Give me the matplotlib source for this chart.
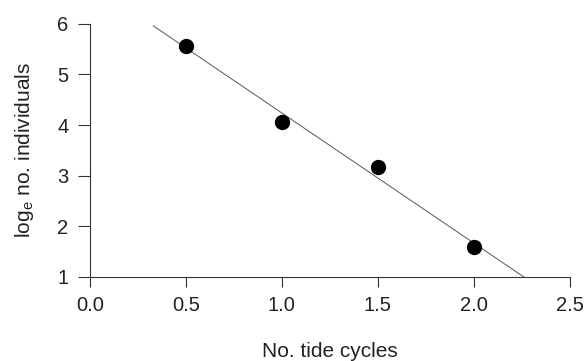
import matplotlib
matplotlib.use("Agg")
import matplotlib.pyplot as plt

plt.rcParams['font.family'] = ['Liberation Sans', 'DejaVu Sans']

# observations
tide_cycles = [0.5, 1.0, 1.5, 2.0]
log_individuals = [5.57, 4.06, 3.17, 1.60]

# fitted line, as drawn
fit_x = [0.33, 2.26]
fit_y = [5.96, 1.0]

fig = plt.figure(figsize=(5.88, 3.61), dpi=100)
ax = fig.add_axes([0.153, 0.233, 0.816, 0.701])

ax.plot(fit_x, fit_y, color='#555555', lw=0.7, zorder=2)
ax.plot(tide_cycles, log_individuals, 'o', color='black', markersize=10, zorder=3)

ax.set_xlim(0, 2.5)
ax.set_ylim(1, 6)
ax.set_xticks([0.0, 0.5, 1.0, 1.5, 2.0, 2.5])
ax.set_xticklabels(['0.0', '0.5', '1.0', '1.5', '2.0', '2.5'])
ax.set_yticks([1, 2, 3, 4, 5, 6])

for s in ['top', 'right']:
    ax.spines[s].set_visible(False)
for s in ['left', 'bottom']:
    ax.spines[s].set_color('#333333')
    ax.spines[s].set_linewidth(0.8)

ax.tick_params(axis='both', direction='out', width=0.8, color='#333333',
               labelsize=14.5, labelcolor='#222222')
ax.tick_params(axis='x', length=7.5, pad=6)
ax.tick_params(axis='y', length=8.5, pad=7)

ax.set_xlabel('No. tide cycles', fontsize=15, color='#222222', labelpad=20)
ax.set_ylabel(r'log$_\mathregular{e}$ no. individuals', fontsize=15, color='#222222', labelpad=15)

fig.savefig('out.png', dpi=100)
